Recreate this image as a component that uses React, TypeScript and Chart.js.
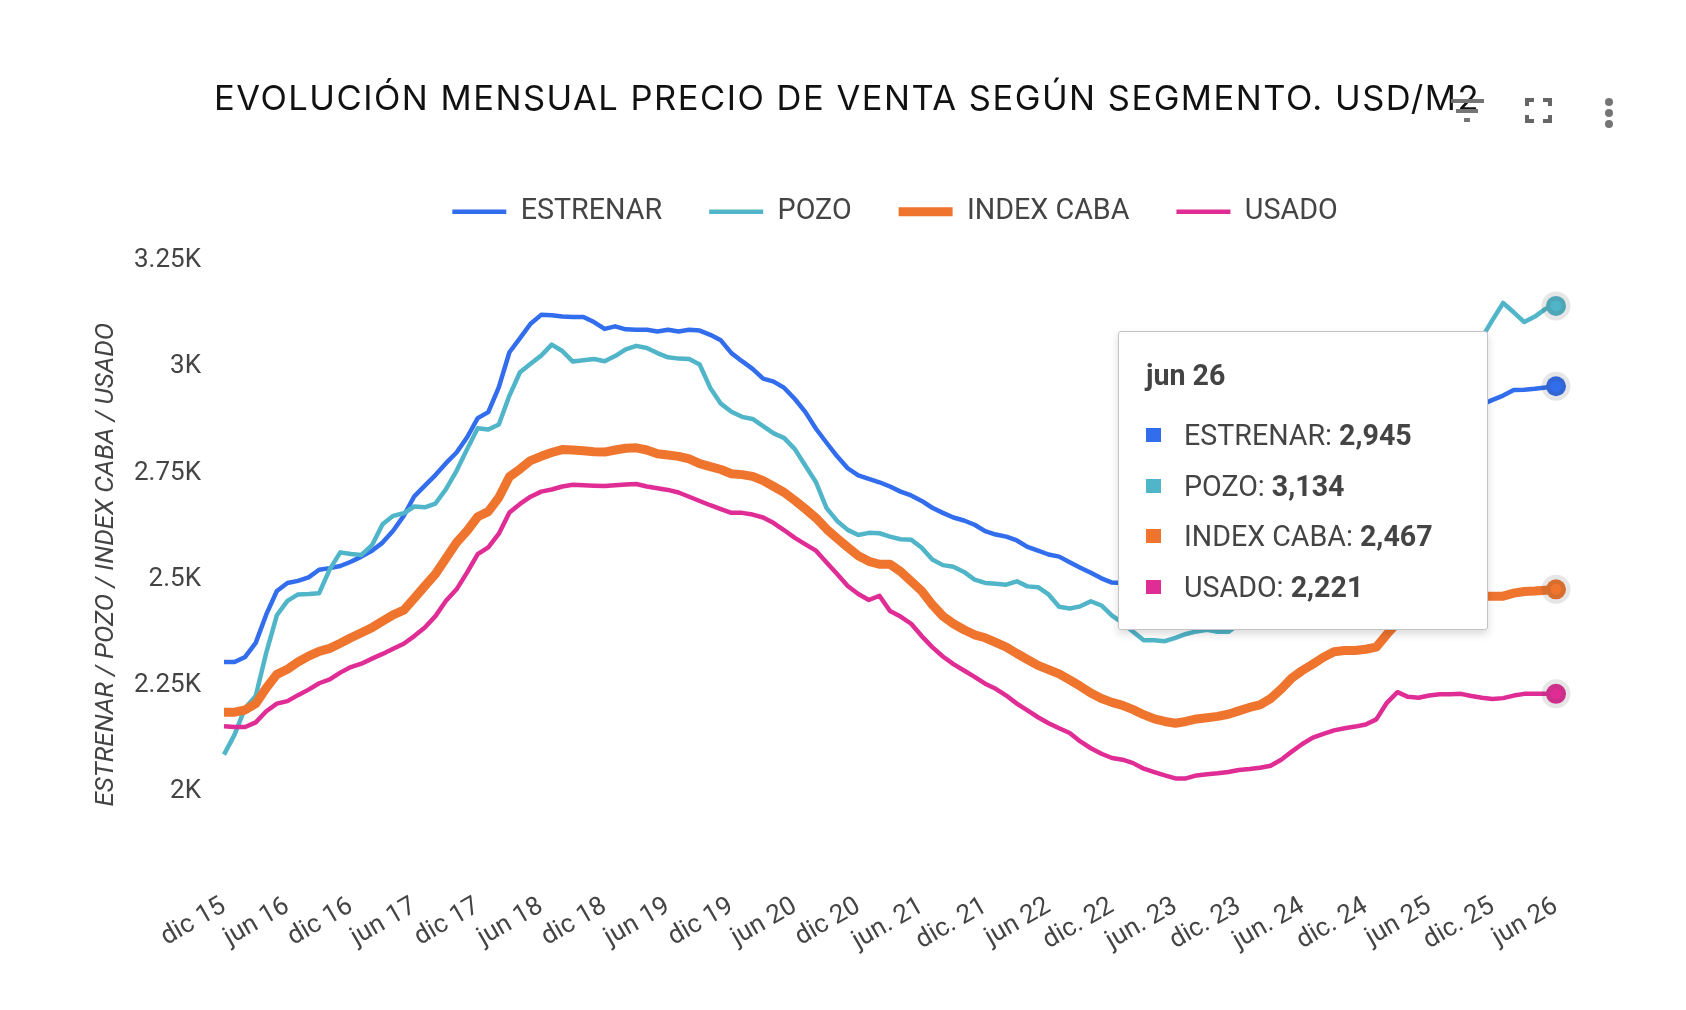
import { useEffect, useRef } from "react";
import { Chart } from "chart.js/auto";

// tick labels, one every 6 months (the source mixes "jun" and "jun.")
const tickLabels = [
    "dic 15", "jun 16", "dic 16", "jun 17", "dic 17", "jun 18", "dic 18", "jun 19", "dic 19", "jun 20", "dic 20",
    "jun. 21", "dic. 21", "jun 22", "dic. 22", "jun. 23", "dic. 23", "jun. 24", "dic. 24", "jun 25", "dic. 25", "jun 26",
];
const monthNames = ["dic", "ene", "feb", "mar", "abr", "may", "jun", "jul", "ago", "sep", "oct", "nov"];
const yTicks = [2000, 2250, 2500, 2750, 3000, 3250];

const estrenar = [
    2296, 2296, 2308, 2341, 2408, 2463, 2482, 2487, 2495, 2513, 2517, 2522, 2532, 2544, 2558, 2577, 2605, 2640, 2686, 2711, 2736, 2764,
    2789, 2825, 2870, 2884, 2943, 3025, 3058, 3092, 3113, 3112, 3109, 3108, 3108, 3096, 3080, 3086, 3079, 3078, 3078, 3074, 3078, 3074,
    3078, 3076, 3066, 3053, 3023, 3004, 2986, 2963, 2956, 2941, 2915, 2884, 2845, 2812, 2780, 2752, 2735, 2727, 2719, 2709, 2697, 2688,
    2675, 2659, 2647, 2636, 2629, 2619, 2604, 2596, 2591, 2582, 2567, 2558, 2549, 2544, 2531, 2518, 2506, 2493, 2483,
    2482, 2478, 2470, 2460, 2450, 2445, 2440, 2440, 2445, 2450, 2455, 2462, 2470, 2478, 2490, 2510, 2530, 2550, 2570, 2590, 2605, 2615, 2625, 2640, 2665, 2700, 2740, 2780, 2810, 2835, 2850, 2865, 2880, 2890, 2902,
    2913, 2923, 2936, 2937, 2939, 2942, 2945,
];
const pozo = [
    2078, 2125, 2188, 2216, 2318, 2406, 2440, 2455, 2456, 2458, 2514, 2554, 2550, 2548, 2571, 2620, 2640, 2646, 2662, 2660, 2669, 2703,
    2746, 2797, 2846, 2843, 2855, 2923, 2978, 2998, 3017, 3043, 3028, 3003, 3006, 3009, 3004, 3016, 3032, 3040, 3035, 3023, 3013, 3010,
    3009, 2996, 2941, 2904, 2885, 2873, 2868, 2851, 2834, 2823, 2797, 2758, 2719, 2658, 2628, 2607, 2595, 2600, 2599, 2591, 2585, 2584,
    2565, 2537, 2524, 2520, 2508, 2490, 2482, 2480, 2478, 2486, 2474, 2472, 2455, 2426, 2422, 2427, 2439, 2429, 2405, 2388, 2367, 2347, 2347, 2345, 2353, 2362, 2368, 2372, 2367, 2367,
    2385, 2400, 2415, 2430, 2460, 2490, 2520, 2550, 2580, 2610, 2640, 2670, 2700, 2740, 2790, 2840, 2880, 2910, 2940, 2965, 2990, 3010, 3030, 3060,
    3101, 3141, 3119, 3096, 3109, 3127, 3134,
];
const indexCaba = [
    2178, 2178, 2183, 2198, 2235, 2267, 2279, 2296, 2310, 2321, 2328, 2340, 2353, 2365, 2377, 2392, 2407, 2418, 2446, 2475, 2503, 2540,
    2577, 2605, 2638, 2650, 2683, 2732, 2750, 2770, 2780, 2789, 2796, 2795, 2793, 2791, 2790, 2795, 2799, 2800, 2795, 2786, 2783, 2780,
    2774, 2763, 2756, 2749, 2739, 2737, 2733, 2723, 2709, 2695, 2676, 2656, 2635, 2609, 2587, 2566, 2546, 2533, 2526, 2526, 2509, 2486,
    2463, 2431, 2404, 2386, 2372, 2360, 2353, 2342, 2331, 2316, 2302, 2288, 2278, 2268, 2254, 2239, 2223, 2210, 2201, 2194, 2184, 2172,
    2162, 2156, 2152, 2156, 2162, 2165, 2168, 2173, 2181, 2189, 2195, 2210, 2232, 2258, 2276, 2291, 2307, 2320, 2323, 2323, 2326,
    2331, 2361, 2389, 2415, 2430, 2445, 2450, 2452, 2453, 2453, 2451, 2451, 2451, 2458, 2462, 2463, 2465, 2467,
];
const usado = [
    2145, 2143, 2143, 2154, 2180, 2198, 2204, 2218, 2231, 2246, 2255, 2271, 2284, 2292, 2304, 2315, 2327, 2339, 2357, 2377, 2404, 2440,
    2467, 2507, 2550, 2566, 2598, 2648, 2668, 2685, 2697, 2702, 2709, 2713, 2712, 2711, 2710, 2712, 2714, 2715, 2709, 2705, 2701, 2695,
    2685, 2675, 2665, 2656, 2647, 2647, 2643, 2636, 2623, 2606, 2588, 2573, 2558, 2530, 2503, 2475, 2456, 2442, 2452, 2416, 2403, 2386,
    2357, 2331, 2309, 2291, 2276, 2261, 2245, 2233, 2217, 2198, 2182, 2166, 2152, 2140, 2129, 2109, 2093, 2080, 2070, 2066, 2058, 2045,
    2037, 2029, 2022, 2022, 2029, 2032, 2034, 2037, 2042, 2044, 2047, 2052, 2066, 2085, 2103, 2118, 2127, 2135, 2140, 2144, 2149,
    2161, 2200, 2225, 2214, 2212, 2217, 2220, 2220, 2221, 2216, 2212, 2209, 2211, 2217, 2221, 2221, 2221, 2221,
];

const months = estrenar.map((_, i) => {
    if (i % 6 === 0) return tickLabels[i / 6];
    return `${monthNames[i % 12]} ${15 + Math.ceil(i / 12)}`;
});

const textColor = "#444444";
const roboto = "Roboto, sans-serif";

// chart.js ties the legend's height to the gap between items and centres title/legend
// on its own boxes, so both get nudged here
const nudgeBoxes = {
    id: "nudgeBoxes",
    beforeInit(chart: any) {
        const { legend, titleBlock, ctx } = chart;
        const fit = legend.fit;
        legend.fit = function () {
            fit.call(legend);
            legend.height = 85;
        };
        const drawLegend = legend.draw;
        legend.draw = function () {
            ctx.save();
            ctx.translate(5, 0);
            drawLegend.call(legend);
            ctx.restore();
        };
        const drawTitle = titleBlock.draw;
        titleBlock.draw = function () {
            ctx.save();
            ctx.translate(69, 0);
            ctx.letterSpacing = "1.5px";
            drawTitle.call(titleBlock);
            ctx.letterSpacing = "0px";
            ctx.restore();
        };
    },
};

const App = () => {
    const chartRef = useRef<HTMLCanvasElement>(null);
    const tooltipRef = useRef<HTMLDivElement>(null);

    useEffect(() => {
        if (!chartRef.current) return;
        const ctx = chartRef.current.getContext("2d");
        if (!ctx) return;

        const lineStyle = (color: string, width: number, order: number) => ({
            borderColor: color,
            backgroundColor: color,
            borderWidth: width,
            borderJoinStyle: "round" as const,
            tension: 0,
            clip: false,
            order,
            pointRadius: 0,
            pointHoverRadius: 10,
            pointHoverBackgroundColor: color,
            pointHoverBorderColor: "rgba(60, 60, 60, 0.13)",
            pointHoverBorderWidth: 9,
        });

        const chart = new Chart(ctx, {
            type: "line",
            plugins: [nudgeBoxes],
            data: {
                labels: months,
                datasets: [
                    { label: "ESTRENAR", data: estrenar, ...lineStyle("#316dec", 4.5, 4) },
                    { label: "POZO", data: pozo, ...lineStyle("#50b5c8", 4.5, 3) },
                    { label: "INDEX CABA", data: indexCaba, ...lineStyle("#ef742e", 9, 2) },
                    { label: "USADO", data: usado, ...lineStyle("#e02d95", 4.5, 1) },
                ],
            },
            options: {
                responsive: false,
                animation: false,
                events: [],
                layout: { padding: { top: 79, right: 130, left: 0, bottom: 0 } },
                plugins: {
                    title: {
                        display: true,
                        text: "EVOLUCIÓN MENSUAL PRECIO DE VENTA SEGÚN SEGMENTO. USD/M2",
                        color: "#111111",
                        font: { family: "Inter, sans-serif", size: 34.5, weight: "400", lineHeight: 1.2 },
                        padding: { top: 0, bottom: 30 },
                    },
                    legend: {
                        position: "top",
                        fullSize: false,
                        labels: {
                            usePointStyle: true,
                            pointStyle: "line",
                            pointStyleWidth: 54,
                            padding: 47,
                            color: textColor,
                            font: { family: roboto, size: 28.7 },
                            sort: (a: any, b: any) => a.datasetIndex - b.datasetIndex,
                        },
                    },
                    tooltip: {
                        enabled: false,
                        mode: "index",
                        external: ({ tooltip }: any) => {
                            const box = tooltipRef.current;
                            if (!box) return;
                            box.innerHTML = "";
                            const title = document.createElement("div");
                            title.textContent = tooltip.title?.[0] ?? "";
                            title.style.cssText = "font-weight:700;height:51px;line-height:51px;margin-bottom:8.5px";
                            box.appendChild(title);
                            (tooltip.dataPoints ?? []).forEach((pt: any) => {
                                const row = document.createElement("div");
                                row.style.cssText = "display:flex;align-items:center;height:50.7px";
                                const swatch = document.createElement("span");
                                swatch.style.cssText = `width:15px;height:14px;margin-right:23px;background:${pt.dataset.borderColor}`;
                                const name = document.createElement("span");
                                name.textContent = `${pt.dataset.label}: `;
                                name.style.whiteSpace = "pre";
                                const value = document.createElement("b");
                                value.textContent = pt.parsed.y.toLocaleString("en-US");
                                row.append(swatch, name, value);
                                box.appendChild(row);
                            });
                        },
                    },
                },
                scales: {
                    x: {
                        grid: { display: false },
                        border: { display: false },
                        afterFit: (scale: any) => {
                            scale.height = 116;
                        },
                        ticks: {
                            autoSkip: false,
                            minRotation: 30,
                            maxRotation: 30,
                            padding: -11,
                            color: textColor,
                            font: { family: roboto, size: 26 },
                            callback: (_: any, i: number) => (i % 6 === 0 ? tickLabels[i / 6] : ""),
                        },
                    },
                    y: {
                        min: 1750,
                        max: 3300,
                        grid: { display: false },
                        border: { display: false },
                        afterFit: (scale: any) => {
                            scale.width = 224;
                        },
                        afterBuildTicks: (scale: any) => {
                            scale.ticks = yTicks.map((value) => ({ value }));
                        },
                        title: {
                            display: true,
                            text: "ESTRENAR / POZO / INDEX CABA / USADO",
                            color: textColor,
                            font: { family: roboto, size: 26, style: "italic" },
                            padding: { top: 91, bottom: 0 },
                        },
                        ticks: {
                            padding: 15,
                            labelOffset: 4,
                            color: textColor,
                            font: { family: roboto, size: 26 },
                            callback: (v: any) => `${v / 1000}K`,
                        },
                    },
                },
            },
        });

        // last month held open, like the reference
        const last = months.length - 1;
        const active = [0, 1, 2, 3].map((datasetIndex) => ({ datasetIndex, index: last }));
        chart.setActiveElements(active);
        chart.tooltip?.setActiveElements(active, { x: 0, y: 0 });
        chart.render();

        return () => {
            chart.destroy();
        };
    }, []);

    return (
        <div style={{ position: "absolute", left: 0, top: 0, width: 1686, height: 1010, background: "#fff", overflow: "hidden" }}>
            <canvas ref={chartRef} width={1686} height={1010} style={{ display: "block" }}></canvas>
            <div
                ref={tooltipRef}
                style={{
                    position: "absolute", left: 1118, top: 331, width: 370, height: 299, boxSizing: "border-box",
                    padding: "18px 27px", background: "#fff", border: "1.5px solid #c4c4c4", borderRadius: 3,
                    boxShadow: "0 4px 8px rgba(0, 0, 0, 0.15)", fontFamily: roboto, fontSize: 28.6, color: textColor,
                }}
            ></div>
            <svg width={1686} height={1010} style={{ position: "absolute", left: 0, top: 0, pointerEvents: "none" }}>
                <g fill="#757575">
                    <rect x={1451} y={99} width={33} height={4} />
                    <rect x={1456} y={109} width={22} height={4} />
                    <rect x={1464} y={118} width={6} height={4} />
                    <circle cx={1609} cy={102} r={4} />
                    <circle cx={1609} cy={113} r={4} />
                    <circle cx={1609} cy={124} r={4} />
                </g>
                <path d="M1527 106v-6h7M1543 100h7v6M1550 115v6h-7M1534 121h-7v-6" fill="none" stroke="#666" strokeWidth={4} />
            </svg>
        </div>
    );
};

export default App;
